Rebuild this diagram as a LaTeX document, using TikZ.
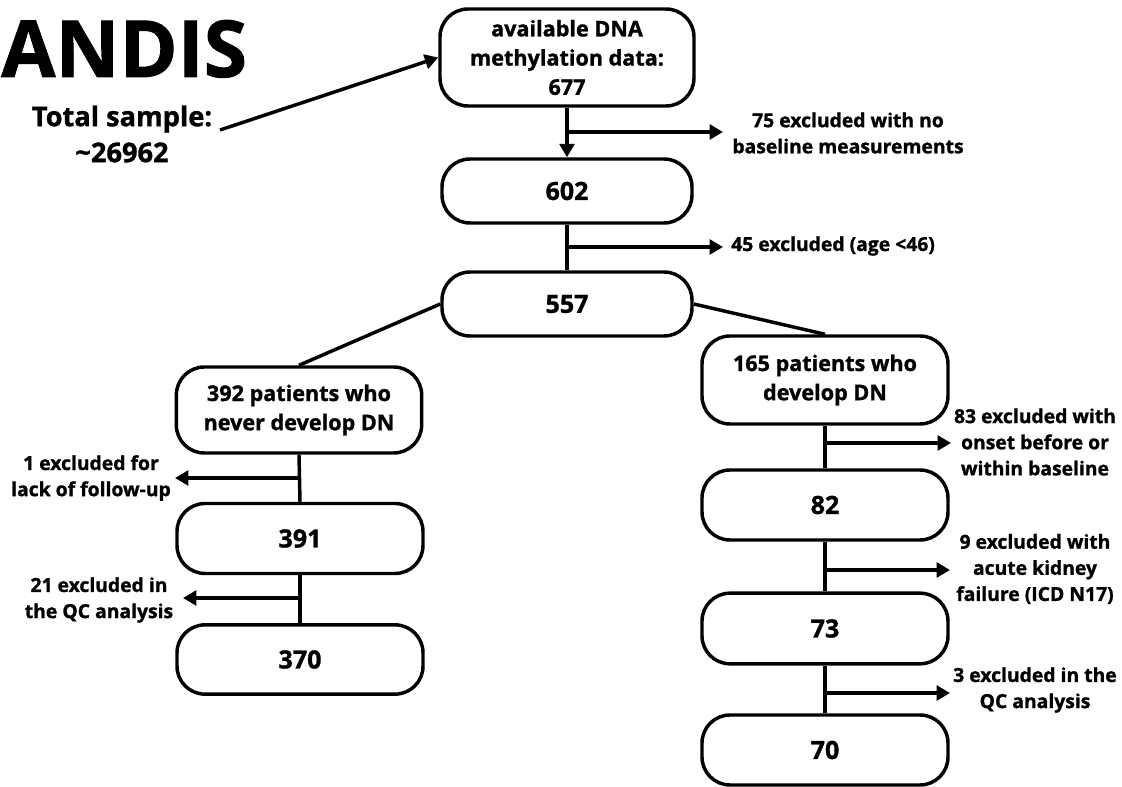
\documentclass[tikz,border=0pt]{standalone}
\usepackage{fontspec}
\setmainfont{Open Sans}[BoldFeatures={FakeBold=1.2}]
\usetikzlibrary{arrows.meta}
\begin{document}
\begin{tikzpicture}[x=0.75pt,y=-0.75pt,
  box/.style={draw, line width=2.6pt, rounded corners=21pt, align=center,
    inner sep=0pt, font=\bfseries\fontsize{16.2}{21.9}\selectfont},
  numbox/.style={box, font=\bfseries\fontsize{18.8}{22}\selectfont},
  excl/.style={align=center, inner sep=0pt, font=\bfseries\fontsize{14.5}{19.6}\selectfont},
  conn/.style={line width=2.6pt},
  arr/.style={conn, -{Triangle[length=10pt,width=11pt]}}]
\useasboundingbox (0,0) rectangle (1122,787);

% title
\node[anchor=base west, inner sep=0pt, font=\bfseries\fontsize{59}{60}\selectfont] (title) at (1,77) {ANDIS};
\node[align=center, inner sep=0pt, font=\bfseries\fontsize{20.4}{27}\selectfont] (total) at (122,134) {Total sample:\\\textasciitilde26962};
\coordinate (ts) at (220,130);

% main column
\node[box, minimum width=190.5pt, minimum height=72.75pt] (top) at (567,57.5) {available DNA\\methylation data:\\677};
\node[numbox, minimum width=187.5pt, minimum height=48pt] (n602) at (567,191) {602};
\node[numbox, minimum width=187.5pt, minimum height=48pt] (n557) at (567,304) {557};

% left column
\node[box, minimum width=184pt, minimum height=64.5pt] (n392) at (299,410) {392 patients who\\never develop DN};
\node[numbox, minimum width=184.5pt, minimum height=52.5pt] (n391) at (300,538.5) {391};
\node[numbox, minimum width=184.5pt, minimum height=52pt] (n370) at (300,659.5) {370};

% right column
\node[box, minimum width=184.5pt, minimum height=66pt] (n165) at (825,380) {165 patients who\\develop DN};
\node[numbox, minimum width=184.5pt, minimum height=52.5pt] (n82) at (825,505) {82};
\node[numbox, minimum width=184.5pt, minimum height=53pt] (n73) at (825,628.5) {73};
\node[numbox, minimum width=184.5pt, minimum height=52.5pt] (n70) at (825,750) {70};

% exclusion labels
\node[excl] (l75) at (848,133) {75 excluded with no\\baseline measurements};
\node[excl, anchor=west] (l45) at (731,246) {45 excluded (age <46)};
\node[excl] (l1) at (91,478) {1 excluded for\\lack of follow-up};
\node[excl] (l21) at (99,600) {21 excluded in\\the QC analysis};
\node[excl] (l83) at (1035,442) {83 excluded with\\onset before or\\within baseline};
\node[excl] (l9) at (1035,569) {9 excluded with\\acute kidney\\failure (ICD N17)};
\node[excl] (l3) at (1035,690) {3 excluded in the\\QC analysis};

% branch points and arrow ends
\coordinate (b75) at (567,132);  \coordinate (e75) at (723,132);
\coordinate (b45) at (567,247);  \coordinate (e45) at (723,247);
\coordinate (b1)  at (299,478);  \coordinate (e1)  at (175,478);
\coordinate (b21) at (300,598);  \coordinate (e21) at (183,598);
\coordinate (b83) at (825,443);  \coordinate (e83) at (951,443);
\coordinate (b9)  at (825,570);  \coordinate (e9)  at (950,570);
\coordinate (b3)  at (825,693);  \coordinate (e3)  at (950,693);

% connectors
\draw[arr] (ts) -- (top.west);
\draw[arr] (top.south) -- (n602.north);
\draw[conn] (n602.south) -- (n557.north);
\draw[conn] (n557.west) -- (n392.north);
\draw[conn] (n557.east) -- (n165.north);
\draw[conn] (n392.south) -- (n391.north);
\draw[conn] (n391.south) -- (n370.north);
\draw[conn] (n165.south) -- (n82.north);
\draw[conn] (n82.south) -- (n73.north);
\draw[conn] (n73.south) -- (n70.north);

\draw[arr] (b75) -- (e75);
\draw[arr] (b45) -- (e45);
\draw[arr] (b1) -- (e1);
\draw[arr] (b21) -- (e21);
\draw[arr] (b83) -- (e83);
\draw[arr] (b9) -- (e9);
\draw[arr] (b3) -- (e3);
\end{tikzpicture}
\end{document}
